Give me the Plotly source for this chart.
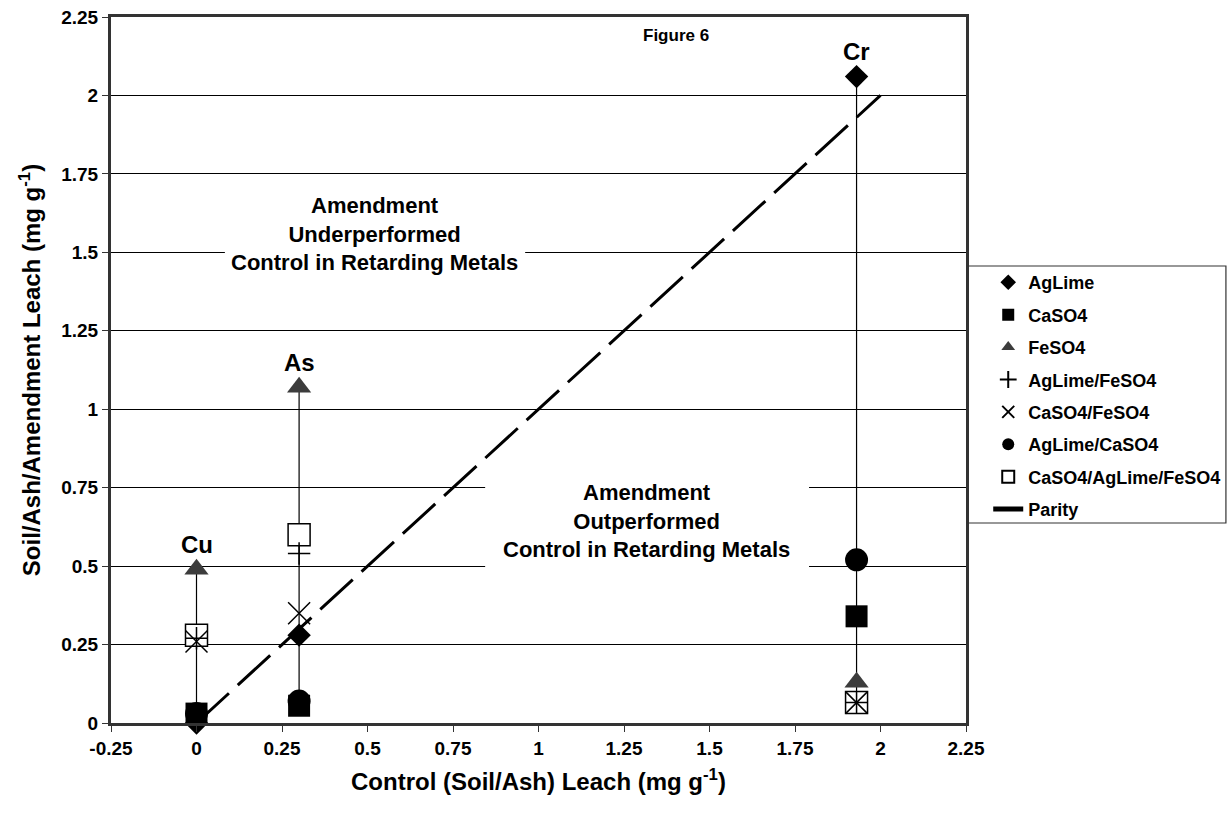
import plotly.graph_objects as go

# Control leach (x) for each metal
metals = ["Cu", "As", "Cr"]
control_leach = [0.0, 0.3, 1.93]

# Soil/ash/amendment leach for each treatment, ordered Cu, As, Cr
aglime = [0.0, 0.28, 2.06]
caso4 = [0.03, 0.055, 0.34]
feso4 = [0.49, 1.07, 0.13]
aglime_feso4 = [0.27, 0.54, 0.065]
caso4_feso4 = [0.26, 0.35, 0.065]
aglime_caso4 = [0.03, 0.07, 0.52]
caso4_aglime_feso4 = [0.28, 0.60, 0.065]

parity_x = [0.0, 2.0]
parity_y = [0.0, 2.0]

x_ticks = [-0.25, 0, 0.25, 0.5, 0.75, 1, 1.25, 1.5, 1.75, 2, 2.25]
x_tick_text = ["-0.25", "0", "0.25", "0.5", "0.75", "1", "1.25", "1.5", "1.75", "2", "2.25"]
y_ticks = [0, 0.25, 0.5, 0.75, 1, 1.25, 1.5, 1.75, 2, 2.25]
y_tick_text = ["0", "0.25", "0.5", "0.75", "1", "1.25", "1.5", "1.75", "2", "2.25"]

FONT = "Liberation Sans, Arial, sans-serif"

series = [
    ("AgLime", aglime, dict(symbol="diamond", size=18, color="black")),
    ("CaSO4", caso4, dict(symbol="square", size=22, color="black")),
    ("FeSO4", feso4, dict(symbol="triangle-up", size=21, color="#3c3c3c")),
    ("AgLime/FeSO4", aglime_feso4,
     dict(symbol="cross-thin-open", size=16, color="black", line=dict(color="black", width=1.5))),
    ("CaSO4/FeSO4", caso4_feso4,
     dict(symbol="x-thin-open", size=22, color="black", line=dict(color="black", width=1.5))),
    ("AgLime/CaSO4", aglime_caso4, dict(symbol="circle", size=23, color="black")),
    ("CaSO4/AgLime/FeSO4", caso4_aglime_feso4,
     dict(symbol="square", size=22, color="white", line=dict(color="black", width=1.5))),
]

# draw order: open square sits beneath the thin cross / x markers
draw_order = [0, 1, 2, 6, 3, 4, 5]

fig = go.Figure()

# high-low connector at each metal
all_series = [s[1] for s in series]
for i, xv in enumerate(control_leach):
    vals = [s[i] for s in all_series]
    fig.add_trace(go.Scatter(
        x=[xv, xv], y=[min(vals), max(vals)], mode="lines",
        line=dict(color="black", width=1.2), showlegend=False, hoverinfo="skip"))

fig.add_trace(go.Scatter(
    x=parity_x, y=parity_y, mode="lines", name="Parity",
    line=dict(color="black", width=3, dash="44px,12px"),
    legendgroup="Parity", legendrank=8))

for k in draw_order:
    name, vals, mk = series[k]
    fig.add_trace(go.Scatter(
        x=control_leach, y=vals, mode="markers", name=name, cliponaxis=False,
        marker=mk, legendgroup=name, legendrank=k + 1))

# metal labels above the highest marker
for i, m in enumerate(metals):
    top = max(s[i] for s in all_series)
    fig.add_annotation(x=control_leach[i], y=top, text=m, showarrow=False,
                       yshift=25, font=dict(size=24, family=FONT, weight="bold", color="black"))

fig.add_annotation(x=1.30, y=2.19, xanchor="left", text="Figure 6", showarrow=False,
                   font=dict(size=17, family=FONT, weight="bold", color="black"))

# white panels behind the region descriptions
fig.add_shape(type="rect", x0=0.083, x1=0.961, y0=1.30, y1=1.70, layer="between",
              fillcolor="white", line=dict(width=0))
fig.add_shape(type="rect", x0=0.844, x1=1.791, y0=0.46, y1=0.79, layer="between",
              fillcolor="white", line=dict(width=0))

fig.add_annotation(x=0.519, y=1.56, text="Amendment<br>Underperformed<br>Control in Retarding Metals",
                   showarrow=False, align="center",
                   font=dict(size=22, family=FONT, weight="bold", color="black"))
fig.add_annotation(x=1.317, y=0.644, text="Amendment<br>Outperformed<br>Control in Retarding Metals",
                   showarrow=False, align="center",
                   font=dict(size=22, family=FONT, weight="bold", color="black"))

# legend frame
fig.add_shape(type="rect", xref="paper", yref="paper", x0=1.0012, x1=1.304, y0=0.2833, y1=0.6473,
              line=dict(color="#333333", width=1.2), fillcolor="rgba(0,0,0,0)")

fig.update_xaxes(
    range=[-0.25, 2.25], tickvals=x_ticks, ticktext=x_tick_text,
    showgrid=False, zeroline=False, showline=True, linewidth=3, linecolor="#333333", mirror=True,
    ticks="outside", ticklen=6, tickwidth=1, tickcolor="#333333",
    tickfont=dict(size=19, family=FONT, weight="bold", color="black"),
    title=dict(text="Control (Soil/Ash) Leach (mg g<sup>-1</sup>)", standoff=16,
               font=dict(size=24, family=FONT, weight="bold", color="black")))
fig.update_yaxes(
    range=[0, 2.25], tickvals=y_ticks, ticktext=y_tick_text,
    showgrid=True, gridcolor="black", gridwidth=1, zeroline=False,
    showline=True, linewidth=3, linecolor="#333333", mirror=True,
    ticks="outside", ticklen=6, tickwidth=1, tickcolor="#333333",
    tickfont=dict(size=19, family=FONT, weight="bold", color="black"),
    title=dict(text="Soil/Ash/Amendment Leach (mg g<sup>-1</sup>)", standoff=14,
               font=dict(size=24, family=FONT, weight="bold", color="black")))

fig.update_layout(
    width=1230, height=815,
    margin=dict(l=111, r=264, t=17, b=92, autoexpand=False),
    paper_bgcolor="white", plot_bgcolor="white",
    font=dict(family=FONT, color="black"),
    showlegend=True,
    legend=dict(x=1.026, y=0.650, xanchor="left", yanchor="top",
                bgcolor="rgba(0,0,0,0)", borderwidth=0,
                font=dict(size=18, family=FONT, weight="bold", color="black"),
                itemsizing="constant", tracegroupgap=6, traceorder="grouped"),
)

fig.write_html("out.html")
